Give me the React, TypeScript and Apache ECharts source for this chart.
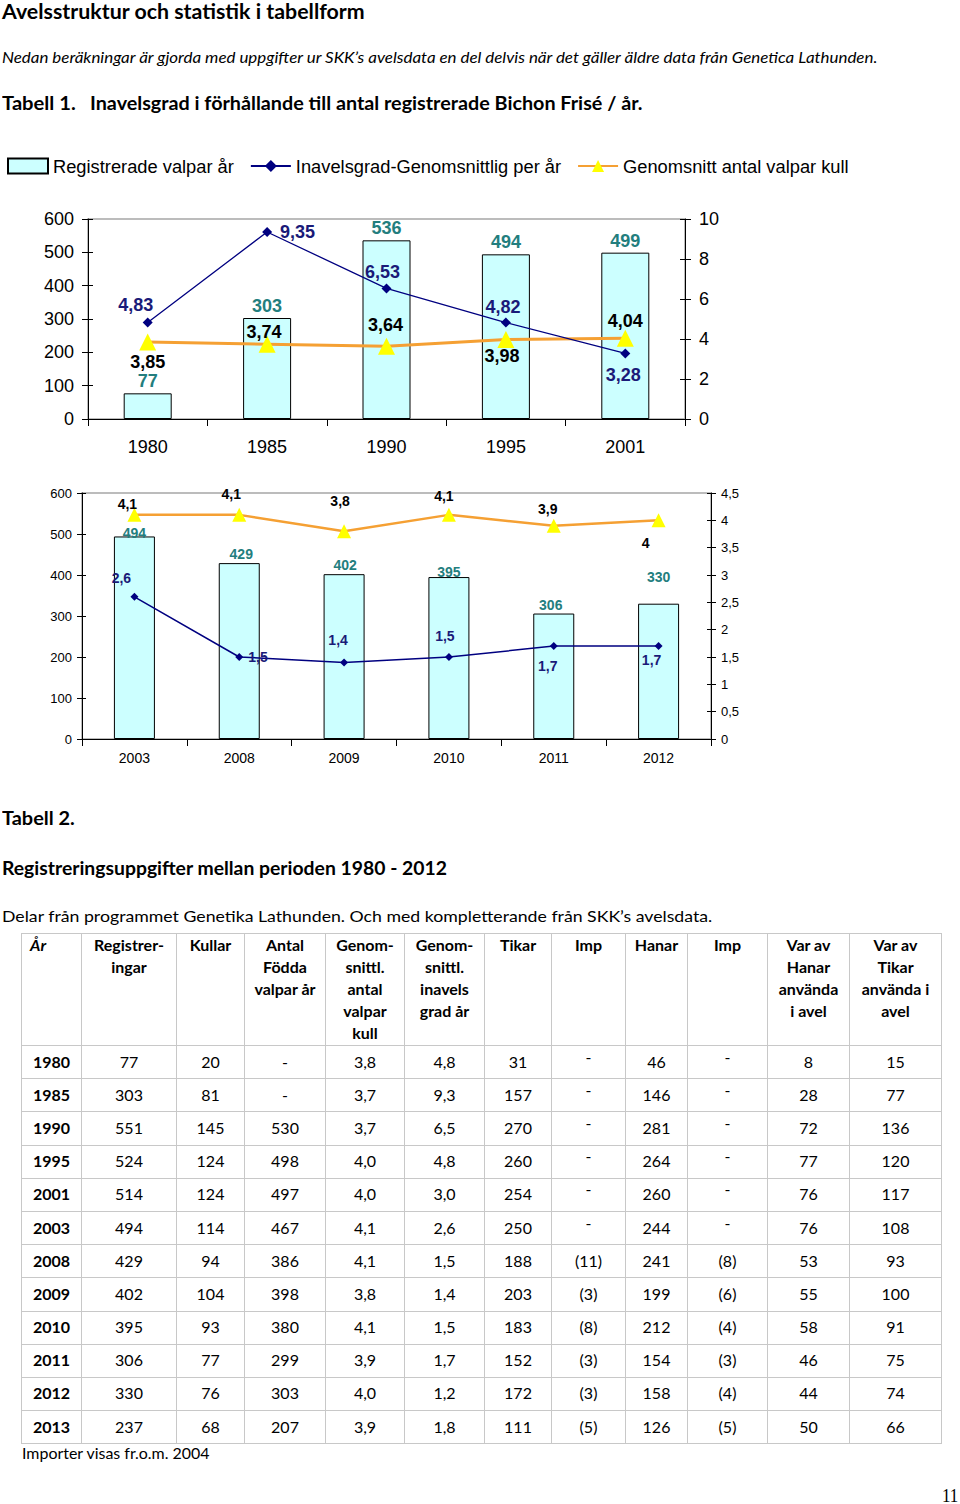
import React, { useEffect, useLayoutEffect, useRef, useState } from "react";
import * as echarts from "echarts";

// ---------- Chart data ----------
const years1 = ["1980", "1985", "1990", "1995", "2001"];
const registered1 = [77, 303, 536, 494, 499];
const inbreeding1 = [4.83, 9.35, 6.53, 4.82, 3.28];
const litter1 = [3.85, 3.74, 3.64, 3.98, 4.04];

const years2 = ["2003", "2008", "2009", "2010", "2011", "2012"];
const registered2 = [494, 429, 402, 395, 306, 330];
const inbreeding2 = [2.6, 1.5, 1.4, 1.5, 1.7, 1.7];
const litter2 = [4.1, 4.1, 3.8, 4.1, 3.9, 4.0];

const seriesNames = ["Registrerade valpar år", "Inavelsgrad-Genomsnittlig per år", "Genomsnitt antal valpar kull"];

// ---------- Table data ----------
const tableHeaders = [
  ["År"],
  ["Registrer-", "ingar"],
  ["Kullar"],
  ["Antal", "Födda", "valpar år"],
  ["Genom-", "snittl.", "antal", "valpar", "kull"],
  ["Genom-", "snittl.", "inavels", "grad år"],
  ["Tikar"],
  ["Imp"],
  ["Hanar"],
  ["Imp"],
  ["Var av", "Hanar", "använda", "i avel"],
  ["Var av", "Tikar", "använda i", "avel"],
];
const tYears = ["1980", "1985", "1990", "1995", "2001", "2003", "2008", "2009", "2010", "2011", "2012", "2013"];
const tReg = ["77", "303", "551", "524", "514", "494", "429", "402", "395", "306", "330", "237"];
const tKullar = ["20", "81", "145", "124", "124", "114", "94", "104", "93", "77", "76", "68"];
const tFodda = ["-", "-", "530", "498", "497", "467", "386", "398", "380", "299", "303", "207"];
const tLitter = ["3,8", "3,7", "3,7", "4,0", "4,0", "4,1", "4,1", "3,8", "4,1", "3,9", "4,0", "3,9"];
const tInbreed = ["4,8", "9,3", "6,5", "4,8", "3,0", "2,6", "1,5", "1,4", "1,5", "1,7", "1,2", "1,8"];
const tTikar = ["31", "157", "270", "260", "254", "250", "188", "203", "183", "152", "172", "111"];
const tTikarImp = ["-", "-", "-", "-", "-", "-", "(11)", "(3)", "(8)", "(3)", "(3)", "(5)"];
const tHanar = ["46", "146", "281", "264", "260", "244", "241", "199", "212", "154", "158", "126"];
const tHanarImp = ["-", "-", "-", "-", "-", "-", "(8)", "(6)", "(4)", "(3)", "(4)", "(5)"];
const tHanarUsed = ["8", "28", "72", "77", "76", "76", "53", "55", "58", "46", "44", "50"];
const tTikarUsed = ["15", "77", "136", "120", "117", "108", "93", "100", "91", "75", "74", "66"];

const colWidths = [60, 95, 68, 81, 79, 80, 67, 74, 62, 80, 82, 92];

const ARIAL = "'Liberation Sans', Arial, sans-serif";
const CAL = "Lato, 'Open Sans', sans-serif";
const TEAL = "#237e7e";
const NAVY = "#1a1a78";

const comma = (v: number) => String(v).replace(".", ",");

type LP = [string, number, number];
// label placement (position, dx, dy) per point
const barLbl1: LP[] = [["top", 0, 0], ["top", 0, 0], ["top", 0, 0], ["top", 0, 0], ["top", 0, 0]];
const inbLbl1: LP[] = [["top", -12, 0], ["right", 5, 0], ["top", -4, 1], ["top", -3, 1], ["bottom", -2, 5]];
const litLbl1: LP[] = [["bottom", 0, -1], ["top", -3, 8], ["top", -1, -1], ["bottom", -4, -4], ["top", 0, 3]];
const barLbl2: LP[] = [["top", 0, 6], ["top", 2, 0], ["top", 1, 0], ["top", 0, 4], ["top", -3, 0], ["top", 0, -18]];
const inbLbl2: LP[] = [["top", -13, -5], ["right", 2, 0], ["top", -6, -8], ["top", -4, -7], ["bottom", -6, 6], ["bottom", -7, 0]];
const litLbl2: LP[] = [["top", -7, 6], ["top", -8, -4], ["top", -4, -13], ["top", -5, -2], ["top", -6, 0], ["bottom", -13, 6]];

function withLabels(values: number[], lp: LP[]) {
  return values.map((v, i) => ({
    value: v,
    label: { position: lp[i][0], offset: [lp[i][1], lp[i][2]] },
  }));
}

function buildOption() {
  const lblStyle = (size: number, color: string, dist: number) => ({
    show: true,
    fontFamily: ARIAL,
    fontWeight: "bold",
    fontSize: size,
    color,
    distance: dist,
    formatter: (p: any) => comma(p.value),
  });

  const valAxis = (grid: number, pos: "left" | "right", min: number, max: number, interval: number, size: number, margin: number, tick: number) => ({
    type: "value",
    gridIndex: grid,
    position: pos,
    min,
    max,
    interval,
    axisLine: { show: true, lineStyle: { color: "#000", width: 1 } },
    axisTick: { show: true, inside: false, length: tick, lineStyle: { color: "#000" } },
    splitLine: { show: false },
    axisLabel: { fontFamily: ARIAL, fontSize: size, color: "#000", margin, formatter: (v: number) => comma(v) },
  });
  const ghostAxis = (grid: number, pos: "left" | "right", min: number, max: number, interval: number, tick: number) => ({
    type: "value",
    gridIndex: grid,
    position: pos,
    min,
    max,
    interval,
    axisLine: { show: false },
    axisTick: { show: true, inside: true, length: tick, lineStyle: { color: "#000" } },
    splitLine: { show: false },
    axisLabel: { show: false },
  });
  const catAxis = (grid: number, data: string[], size: number, margin: number) => ({
    type: "category",
    gridIndex: grid,
    data,
    boundaryGap: true,
    axisLine: { show: true, lineStyle: { color: "#000", width: 1 } },
    axisTick: { show: true, alignWithLabel: false, length: 7, lineStyle: { color: "#000" } },
    axisLabel: { fontFamily: ARIAL, fontSize: size, color: "#000", margin },
  });

  return {
    animation: false,
    backgroundColor: "transparent",
    legend: {
      left: 7,
      top: 157,
      padding: 0,
      itemWidth: 40,
      itemHeight: 15,
      itemGap: 16,
      textStyle: { fontFamily: ARIAL, fontSize: 18.3, color: "#000" },
      data: [
        { name: seriesNames[0], icon: "rect" },
        { name: seriesNames[1] },
        { name: seriesNames[2] },
      ],
      selectedMode: false,
    },
    grid: [
      { left: 88, top: 219, width: 597, height: 200, show: true, borderColor: "#a6a6a6", borderWidth: 1.5, backgroundColor: "transparent" },
      { left: 82, top: 493, width: 629, height: 246, show: true, borderColor: "#a6a6a6", borderWidth: 1.5, backgroundColor: "transparent" },
    ],
    xAxis: [catAxis(0, years1, 18, 19), catAxis(1, years2, 14, 12)],
    yAxis: [
      valAxis(0, "left", 0, 600, 100, 18, 14, 6),
      valAxis(0, "right", 0, 10, 2, 18, 14, 6),
      ghostAxis(0, "left", 0, 600, 100, 5),
      ghostAxis(0, "right", 0, 10, 2, 5),
      valAxis(1, "left", 0, 600, 100, 13, 10, 5),
      valAxis(1, "right", 0, 4.5, 0.5, 13, 10, 5),
      ghostAxis(1, "left", 0, 600, 100, 4),
      ghostAxis(1, "right", 0, 4.5, 0.5, 4),
    ],
    series: [
      {
        name: seriesNames[0],
        type: "bar",
        xAxisIndex: 0,
        yAxisIndex: 0,
        barWidth: 48,
        itemStyle: { color: "#ccffff", borderColor: "#000", borderWidth: 1 },
        label: lblStyle(18, TEAL, 3),
        data: withLabels(registered1, barLbl1),
        z: 2,
      },
      {
        name: seriesNames[1],
        type: "line",
        xAxisIndex: 0,
        yAxisIndex: 1,
        symbol: "diamond",
        symbolSize: 10,
        lineStyle: { color: "#000080", width: 1.3 },
        itemStyle: { color: "#000080" },
        label: lblStyle(18, NAVY, 3),
        data: withLabels(inbreeding1, inbLbl1),
        z: 4,
      },
      {
        name: seriesNames[2],
        type: "line",
        xAxisIndex: 0,
        yAxisIndex: 1,
        symbol: "triangle",
        symbolSize: 17,
        lineStyle: { color: "#f5a033", width: 3 },
        itemStyle: { color: "#ffff00" },
        label: lblStyle(18, "#000", 3),
        data: withLabels(litter1, litLbl1),
        z: 3,
      },
      {
        name: seriesNames[0],
        type: "bar",
        xAxisIndex: 1,
        yAxisIndex: 4,
        barWidth: 41,
        itemStyle: { color: "#ccffff", borderColor: "#000", borderWidth: 1 },
        label: lblStyle(14, TEAL, 2),
        data: withLabels(registered2, barLbl2),
        z: 2,
      },
      {
        name: seriesNames[1],
        type: "line",
        xAxisIndex: 1,
        yAxisIndex: 5,
        symbol: "diamond",
        symbolSize: 8,
        lineStyle: { color: "#000080", width: 1.5 },
        itemStyle: { color: "#000080" },
        label: lblStyle(14, NAVY, 3),
        data: withLabels(inbreeding2, inbLbl2),
        z: 4,
      },
      {
        name: seriesNames[2],
        type: "line",
        xAxisIndex: 1,
        yAxisIndex: 5,
        symbol: "triangle",
        symbolSize: 14,
        lineStyle: { color: "#f5a033", width: 2.5 },
        itemStyle: { color: "#ffff00" },
        label: lblStyle(14, "#000", 3),
        data: withLabels(litter2, litLbl2),
        z: 3,
      },
    ],
  };
}

function Charts() {
  const ref = useRef<HTMLDivElement>(null);
  useEffect(() => {
    if (!ref.current) return;
    const chart = echarts.init(ref.current, undefined, { renderer: "svg" });
    chart.setOption(buildOption() as any);
    return () => chart.dispose();
  }, []);
  return <div ref={ref} style={{ position: "absolute", left: 0, top: 0, width: 960, height: 790 }} />;
}

function Fit(props: { x: number; cy: number; w: number; size: number; bold?: boolean; italic?: boolean; family?: string; children: React.ReactNode }) {
  const ref = useRef<HTMLSpanElement>(null);
  const [s, setS] = useState(1);
  useLayoutEffect(() => {
    const measure = () => {
      if (ref.current) {
        const ow = ref.current.offsetWidth;
        if (ow) setS(props.w / ow);
      }
    };
    measure();
    const f: any = (document as any).fonts;
    if (f && f.ready) f.ready.then(measure);
  }, [props.w]);
  const lh = Math.round(props.size * 1.3);
  return (
    <span
      ref={ref}
      style={{
        position: "absolute",
        left: props.x,
        top: props.cy - lh / 2,
        lineHeight: lh + "px",
        fontSize: props.size,
        fontWeight: props.bold ? "bold" : "normal",
        fontStyle: props.italic ? "italic" : "normal",
        fontFamily: props.family || CAL,
        whiteSpace: "nowrap",
        transform: `scaleX(${s})`,
        transformOrigin: "0 0",
        color: "#000",
      }}
    >
      {props.children}
    </span>
  );
}

function Table() {
  const cols = [tYears, tReg, tKullar, tFodda, tLitter, tInbreed, tTikar, tTikarImp, tHanar, tHanarImp, tHanarUsed, tTikarUsed];
  const border = "1.5px solid #c8c8c8";
  return (
    <table
      style={{
        position: "absolute",
        left: 21,
        top: 933,
        width: 920,
        borderCollapse: "collapse",
        tableLayout: "fixed",
        fontFamily: CAL,
        fontSize: 16,
        color: "#000",
      }}
    >
      <colgroup>
        {colWidths.map((w, i) => (
          <col key={i} style={{ width: w }} />
        ))}
      </colgroup>
      <tbody>
        <tr style={{ height: 108 }}>
          {tableHeaders.map((h, i) => (
            <td
              key={i}
              style={{
                border,
                verticalAlign: "top",
                textAlign: i === 0 ? "left" : "center",
                paddingLeft: i === 0 ? 8 : 0,
                paddingRight: 0,
                paddingTop: 0,
                lineHeight: "22px",
                fontWeight: "bold",
                fontStyle: i === 0 ? "italic" : "normal",
                whiteSpace: "nowrap",
              }}
            >
              {h.map((line, j) => (
                <div key={j}>{line}</div>
              ))}
            </td>
          ))}
        </tr>
        {tYears.map((_, r) => (
          <tr key={r} style={{ height: 33.2 }}>
            {cols.map((c, i) => {
              const raised = (i === 7 || i === 9) && c[r] === "-";
              return (
                <td
                  key={i}
                  style={{
                    border,
                    textAlign: "center",
                    verticalAlign: "middle",
                    padding: 0,
                    fontWeight: i === 0 ? "bold" : "normal",
                    whiteSpace: "nowrap",
                  }}
                >
                  <span style={{ position: "relative", top: raised ? -6 : -1 }}>{c[r]}</span>
                </td>
              );
            })}
          </tr>
        ))}
      </tbody>
    </table>
  );
}

export default function App() {
  return (
    <div style={{ position: "absolute", left: 0, top: 0, width: 960, height: 1504, background: "#fff", overflow: "hidden" }}>
      <Charts />
      <Fit x={2} cy={11} w={363} size={20} bold>Avelsstruktur och statistik i tabellform</Fit>
      <Fit x={2} cy={57} w={875} size={15} italic>
        Nedan beräkningar är gjorda med uppgifter ur SKK’s avelsdata en del delvis när det gäller äldre data från Genetica Lathunden.
      </Fit>
      <Fit x={2} cy={103} w={74} size={18} bold>Tabell 1.</Fit>
      <Fit x={90} cy={103} w={552} size={18} bold>Inavelsgrad i förhållande till antal registrerade Bichon Frisé / år.</Fit>
      <Fit x={2} cy={818} w={73} size={18} bold>Tabell 2.</Fit>
      <Fit x={2} cy={868} w={445} size={18} bold>Registreringsuppgifter mellan perioden 1980 - 2012</Fit>
      <Fit x={2} cy={915} w={710} size={16}>
        Delar från programmet Genetika Lathunden. Och med kompletterande från SKK’s avelsdata.
      </Fit>
      <Table />
      <Fit x={22} cy={1453} w={188} size={15}>Importer visas fr.o.m. 2004</Fit>
      <Fit x={942} cy={1496} w={16} size={18} family="'Liberation Serif', 'DejaVu Serif', serif">11</Fit>
    </div>
  );
}
